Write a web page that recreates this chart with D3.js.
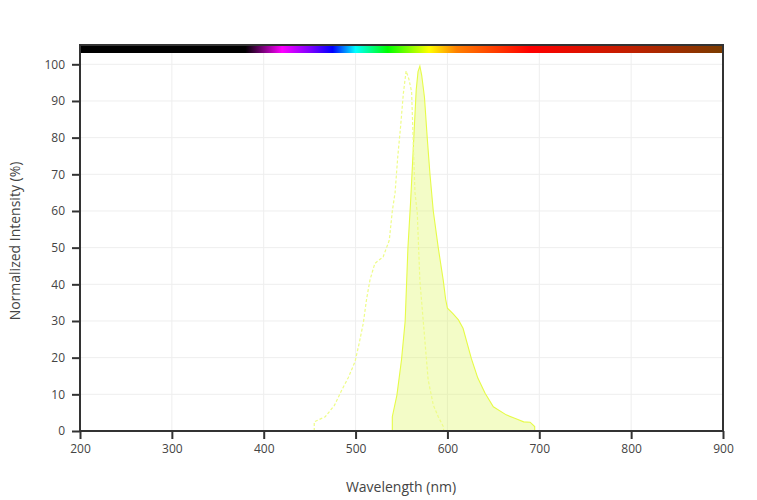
<!DOCTYPE html>
<html>
<head>
<meta charset="utf-8">
<script src="https://cdn.jsdelivr.net/npm/d3@7"></script>
<style>
html,body{margin:0;padding:0;background:#fff;}
text{font-family:"Open Sans",sans-serif;}
</style>
</head>
<body>
<svg id="chart" width="757" height="500"></svg>
<script>
// Emission spectrum (solid, filled)
const emWavelength = [540, 540, 545, 550, 554, 557, 560, 563, 566, 568, 570, 572, 575, 578, 581, 584.6, 590, 595.5, 598, 600, 606, 612, 617, 626, 633, 641, 650, 664, 676, 683, 690, 695, 695];
const emIntensity  = [0, 3.9, 9.8, 19.4, 30, 50, 63, 78, 93, 98, 99.5, 97, 91, 80, 70, 60, 50, 41, 36, 33.5, 32, 30.3, 28, 19.8, 14.5, 10.3, 6.6, 4.4, 3.2, 2.5, 2.4, 1.2, 0];
// Excitation spectrum (dotted)
const exWavelength = [455, 455, 467, 477, 485, 492, 499.4, 504, 508.4, 512, 515.7, 521, 530, 536.7, 540, 543, 546, 549, 552, 555, 558, 561, 562.8, 564.7, 567.2, 570, 573, 576, 579, 584.6, 590, 595.5, 596];
const exIntensity  = [0, 2.5, 3.9, 7, 11.2, 14.5, 18.9, 24, 29.4, 36, 41.2, 45.7, 47.5, 52, 60, 65, 75, 83, 92, 98.2, 96, 92.5, 78.5, 65, 59.4, 41, 32, 23, 14, 7.1, 3.9, 1.2, 0];

const xTicks = [200, 300, 400, 500, 600, 700, 800, 900];
const yTicks = [0, 10, 20, 30, 40, 50, 60, 70, 80, 90, 100];
// visible-spectrum colour bar stops (wavelength, colour)
const barStopNm = [200, 380, 420, 450, 475, 500, 535, 580, 610, 650, 690, 800, 900];
const barStopColor = ["#000000", "#000000", "#ff00ff", "#8000ff", "#0000ff", "#00ffff", "#00ff00", "#ffff00", "#ff8000", "#ff4000", "#ff0000", "#c02000", "#7a3c00"];

const svg = d3.select("#chart");
const L = 80, R = 723, T = 45, B = 431;
const x = d3.scaleLinear().domain([200, 900]).range([L, R]);
const y = d3.scaleLinear().domain([0, 100]).range([B, 64.3]);

// grid
const g = svg.append("g");
g.selectAll(".vg").data(xTicks.slice(1, -1)).enter().append("line")
  .attr("x1", d => x(d)).attr("x2", d => x(d)).attr("y1", T).attr("y2", B)
  .attr("stroke", "#eeeeee").attr("stroke-width", 1);
g.selectAll(".hg").data(yTicks.slice(1)).enter().append("line")
  .attr("x1", L).attr("x2", R).attr("y1", d => y(d)).attr("y2", d => y(d))
  .attr("stroke", "#eeeeee").attr("stroke-width", 1);

// colour bar gradient
const defs = svg.append("defs");
const grad = defs.append("linearGradient").attr("id", "spec")
  .attr("gradientUnits", "userSpaceOnUse")
  .attr("x1", x(200)).attr("x2", x(900)).attr("y1", 0).attr("y2", 0);
barStopNm.forEach((nm, i) => {
  grad.append("stop").attr("offset", (nm - 200) / 700).attr("stop-color", barStopColor[i]);
});
svg.append("rect").attr("x", L).attr("y", T).attr("width", R - L).attr("height", 8)
  .attr("fill", "url(#spec)");

// series
const emData = emWavelength.map((w, i) => [w, emIntensity[i]]);
const exData = exWavelength.map((w, i) => [w, exIntensity[i]]);
const area = d3.area().x(d => x(d[0])).y0(y(0)).y1(d => y(d[1]));
const line = d3.line().x(d => x(d[0])).y(d => y(d[1]));

svg.append("path").datum(emData).attr("d", area)
  .attr("fill", "rgba(222,247,95,0.35)").attr("stroke", "none");
svg.append("path").datum(emData).attr("d", line)
  .attr("fill", "none").attr("stroke", "#e6fb48").attr("stroke-width", 1.1);
svg.append("path").datum(exData).attr("d", line)
  .attr("fill", "none").attr("stroke", "#eefc88").attr("stroke-width", 1.2)
  .attr("stroke-dasharray", "3,2");

// frame
svg.append("rect").attr("x", L).attr("y", T).attr("width", R - L).attr("height", B - T)
  .attr("fill", "none").attr("stroke", "#333").attr("stroke-width", 2);

// axes
const xAxis = d3.axisBottom(x).tickValues(xTicks).tickSize(8).tickSizeOuter(0).tickPadding(5);
const xa = svg.append("g").attr("transform", `translate(0,${B})`).call(xAxis);
xa.select(".domain").remove();
xa.selectAll("line").attr("stroke", "#333").attr("stroke-width", 2);
xa.selectAll("text").attr("fill", "#444").style("font-size", "12px").style("font-family", "'Open Sans', sans-serif");

const yAxis = d3.axisLeft(y).tickValues(yTicks).tickSize(8).tickSizeOuter(0).tickPadding(7);
const ya = svg.append("g").attr("transform", `translate(${L},0)`).call(yAxis);
ya.select(".domain").remove();
ya.selectAll("line").attr("stroke", "#333").attr("stroke-width", 2);
ya.selectAll("text").attr("fill", "#444").style("font-size", "12px").style("font-family", "'Open Sans', sans-serif");

// titles
svg.append("text").attr("x", 401).attr("y", 492).attr("text-anchor", "middle")
  .attr("fill", "#444").style("font-size", "14px").text("Wavelength (nm)");
svg.append("text").attr("transform", `translate(20,241) rotate(-90)`)
  .attr("text-anchor", "middle").attr("fill", "#444").style("font-size", "14px")
  .text("Normalized Intensity (%)");
</script>
</body>
</html>
